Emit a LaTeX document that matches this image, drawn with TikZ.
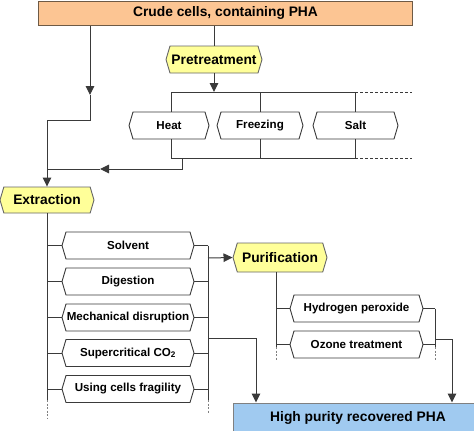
\documentclass[tikz,border=0pt]{standalone}
\usepackage{fontspec}
\setmainfont{Liberation Sans}
\usetikzlibrary{shapes.symbols,arrows.meta,calc}
\definecolor{orangefill}{HTML}{FCC593}
\definecolor{orangeline}{HTML}{6E5A45}
\definecolor{yellowfill}{HTML}{FFFF99}
\definecolor{bluefill}{HTML}{A0CAF0}
\definecolor{lineclr}{HTML}{3A3A3A}
\begin{document}
\begin{tikzpicture}[x=1bp,y=-1bp,
  bigtxt/.style={font=\fontsize{13.8bp}{16bp}\selectfont\bfseries},
  smalltxt/.style={font=\fontsize{11.6bp}{14bp}\selectfont\bfseries},
  hexbox/.style={signal, signal to=east and west, signal pointer angle=147,
     draw=lineclr, line width=0.9bp, fill=white, minimum height=27bp, inner sep=0pt, smalltxt},
  yhex/.style={hexbox, fill=yellowfill, draw=gray!80!black, bigtxt},
  conn/.style={draw=lineclr, line width=1bp},
  arr/.style={conn, -{Triangle[length=9bp,width=8.5bp]}},
  dots/.style={draw=gray, line width=1bp, dash pattern=on 2bp off 1.5bp},
  dashext/.style={draw=lineclr, line width=0.8bp, dash pattern=on 3bp off 2bp}
]
\useasboundingbox (0,0) rectangle (474,430);

% main boxes
\node[bigtxt, draw=orangeline, line width=1bp, fill=orangefill, minimum width=373bp, minimum height=24bp, inner sep=0pt] (top) at (225.5,13) {Crude cells, containing PHA};
\node[bigtxt, draw=gray, line width=1bp, fill=bluefill, minimum width=250bp, minimum height=30bp, inner sep=0pt] (hpr) at (358,418) {High purity recovered PHA};

% pretreatment
\node[yhex, minimum width=96bp] (pre) at (214,59.5) {Pretreatment};
\node[hexbox, minimum width=80bp] (heat) at (169,125.5) {Heat};
\node[hexbox, minimum width=86bp] (freez) at (260,125.5) {Freezing};
\node[hexbox, minimum width=85bp] (salt) at (355.5,125.5) {Salt};

% extraction
\node[yhex, minimum width=94bp, minimum height=26bp] (ext) at (47,200) {Extraction};
\node[hexbox, minimum width=132bp] (solv) at (128,245.5) {Solvent};
\node[hexbox, minimum width=132bp] (dig) at (128,281.5) {Digestion};
\node[hexbox, minimum width=132bp] (mech) at (128,317.5) {Mechanical disruption};
\node[hexbox, minimum width=132bp] (scco) at (128,353) {Supercritical CO\textsubscript{2}};
\node[hexbox, minimum width=132bp] (frag) at (128,389) {Using cells fragility};

% purification
\node[yhex, minimum width=94bp, minimum height=29bp] (pur) at (280,257.5) {Purification};
\node[hexbox, minimum width=133bp] (hp) at (356.5,308.5) {Hydrogen peroxide};
\node[hexbox, minimum width=133bp] (oz) at (356.5,344.5) {Ozone treatment};

% coordinates
\coordinate (a1) at (90,95);
\coordinate (c1) at (90,120);
\coordinate (c2) at (47,120);
\coordinate (b1l) at (171,92);
\coordinate (b1r) at (355,92);
\coordinate (b1e) at (412,92);
\coordinate (b2l) at (171,158);
\coordinate (b2r) at (355,158);
\coordinate (b2e) at (412,158);
\coordinate (b2o) at (182,158);
\coordinate (b2d) at (182,169);
\coordinate (a2) at (100,169);
\coordinate (j1) at (47,169);
\coordinate (es) at (47,400);
\coordinate (ee) at (47,418);
\coordinate (rs0) at (208,245.5);
\coordinate (rs) at (208,400);
\coordinate (re) at (208,413);
\coordinate (rp) at (208,258);
\coordinate (rh) at (208,338);
\coordinate (rh2) at (256,338);
\coordinate (ps0) at (276,272);
\coordinate (ps) at (276,347);
\coordinate (pe) at (276,360);
\coordinate (qs0) at (435,308.5);
\coordinate (qs) at (435,347);
\coordinate (qe) at (435,360);
\coordinate (qh) at (435,339);
\coordinate (qh2) at (452,339);

% top part connectors
\draw[arr] (top.south -| a1) -- (a1);
\draw[conn] (a1) -- (c1) -- (c2);
\draw[conn] (top.south -| pre.north) -- (pre.north);
\draw[arr] (pre.south) -- (pre.south |- b1l);
\draw[conn] (b1l) -- (b1r);
\draw[dashext] (b1r) -- (b1e);
\draw[conn] (b1l) -- (b1l |- heat.north);
\draw[conn] (freez.north |- b1l) -- (freez.north);
\draw[conn] (b1r) -- (b1r |- salt.north);
\draw[conn] (b2l |- heat.south) -- (b2l) -- (b2r);
\draw[conn] (freez.south) -- (freez.south |- b2l);
\draw[conn] (b2r |- salt.south) -- (b2r);
\draw[dashext] (b2r) -- (b2e);
\draw[arr] (b2o) -- (b2d) -- (a2);
\draw[conn] (a2) -- (j1);
\draw[arr] (c2) -- (ext.north);

% extraction connectors
\draw[conn] (ext.south) -- (es);
\draw[dots] (es) -- (ee);
\foreach \n in {solv,dig,mech,scco,frag}{
  \draw[conn] (ext.south |- \n.west) -- (\n.west);
  \draw[conn] (\n.east) -- (rs0 |- \n.east);
}
\draw[conn] (rs0) -- (rs);
\draw[dots] (rs) -- (re);
\draw[arr] (rp) -- (pur.west);
\draw[arr] (rh) -- (rh2) -- (rh2 |- hpr.north);

% purification connectors
\draw[conn] (ps0) -- (ps);
\draw[dots] (ps) -- (pe);
\draw[conn] (ps0 |- hp.west) -- (hp.west);
\draw[conn] (ps0 |- oz.west) -- (oz.west);
\draw[conn] (hp.east) -- (qs0);
\draw[conn] (oz.east) -- (qs0 |- oz.east);
\draw[conn] (qs0) -- (qs);
\draw[dots] (qs) -- (qe);
\draw[arr] (qh) -- (qh2) -- (qh2 |- hpr.north);
\end{tikzpicture}
\end{document}
